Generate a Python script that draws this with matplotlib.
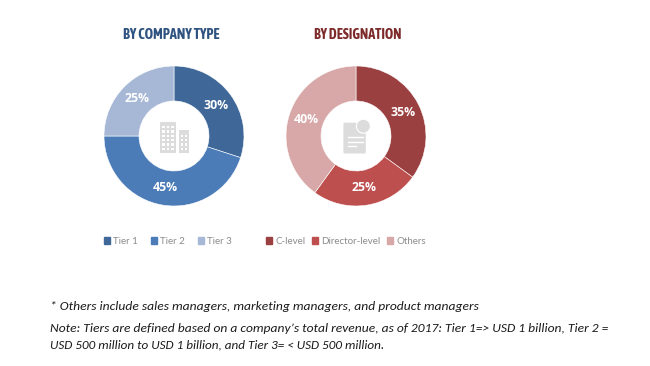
#two donut charts, company type and designation
import matplotlib
matplotlib.use('Agg')
import matplotlib.pyplot as plt
from matplotlib.patches import Rectangle, Circle, FancyBboxPatch

company_labels = ['Tier 1', 'Tier 2', 'Tier 3']
company_values = [30, 45, 25]
company_colors = ['#3f6899', '#4b7cb8', '#a7b8d6']

desig_labels = ['C-level', 'Director-level', 'Others']
desig_values = [35, 25, 40]
desig_colors = ['#9b4040', '#bd4f4e', '#d8a8a8']

note1 = '* Others include sales managers, marketing managers, and product managers'
note2 = 'Note: Tiers are defined based on a company\u2019s total revenue, as of 2017: Tier 1=> USD 1 billion, Tier 2 ='
note3 = 'USD 500 million to USD 1 billion, and Tier 3= < USD 500 million.'

W, H = 650, 366
plt.rcParams['font.family'] = ['Lato', 'DejaVu Sans']
fig = plt.figure(figsize=(W / 100, H / 100), dpi=100, facecolor='white')


def donut(cx, cy, values, colors):
    # 外半径70px
    r = 70
    ax = fig.add_axes([(cx - r) / W, 1 - (cy + r) / H, 2 * r / W, 2 * r / H])
    ax.pie(values, colors=colors, radius=1, startangle=90, counterclock=False,
           wedgeprops=dict(width=0.5, edgecolor='white', linewidth=0.4),
           autopct='%d%%', pctdistance=0.75,
           textprops=dict(color='white', fontsize=8.8, fontweight='bold', family=['Open Sans', 'DejaVu Sans']))
    ax.set_xlim(-1, 1)
    ax.set_ylim(-1, 1)
    return ax


ax1 = donut(174, 136, company_values, company_colors)
ax2 = donut(356, 136, desig_values, desig_colors)

# 中心图标
grey = '#dcdcdc'
ax1.add_patch(Rectangle((-0.2, -0.24), 0.23, 0.44, color=grey, lw=0))
ax1.add_patch(Rectangle((0.07, -0.24), 0.14, 0.33, color=grey, lw=0))
for i in range(6):
    for j in range(3):
        ax1.add_patch(Rectangle((-0.165 + j * 0.062, -0.2 + i * 0.062), 0.034, 0.034, color='white', lw=0))
for i in range(4):
    for j in range(2):
        ax1.add_patch(Rectangle((0.095 + j * 0.055, -0.2 + i * 0.062), 0.03, 0.034, color='white', lw=0))

ax2.add_patch(FancyBboxPatch((-0.16, -0.23), 0.28, 0.4, boxstyle='round,pad=0.02', color=grey, lw=0))
ax2.add_patch(Circle((0.105, 0.14), 0.1, facecolor=grey, edgecolor='white', lw=0.8))
for y0, x1 in [(-0.02, 0.1), (-0.08, 0.1), (-0.14, 0.0)]:
    ax2.plot([-0.11, x1], [y0, y0], color='white', lw=1)


def legend(labels, colors, cx, spacing):
    handles = [Rectangle((0, 0), 1, 1, color=c) for c in colors]
    fig.legend(handles, labels, loc='center', bbox_to_anchor=(cx / W, 1 - 241 / H), ncol=3, frameon=False,
               fontsize=7, labelcolor='#8c8c8c', handlelength=0.6, handleheight=0.7, handletextpad=0.35,
               columnspacing=spacing, borderpad=0, borderaxespad=0)


legend(company_labels, company_colors, 168, 1.3)
legend(desig_labels, desig_colors, 346, 0.65)

title_font = ['Asap Condensed', 'Liberation Sans']
fig.text(171 / W, 1 - 35 / H, 'BY COMPANY TYPE', ha='center', va='center', color='#2f5380', fontsize=10.4,
         fontweight='bold', family=title_font)
fig.text(358 / W, 1 - 35 / H, 'BY DESIGNATION', ha='center', va='center', color='#7d2a2a', fontsize=10.2,
         fontweight='bold', family=title_font)

note_font = ['Carlito', 'Lato', 'DejaVu Sans']
fig.text(50 / W, 1 - 306 / H, note1, ha='left', va='center', style='italic', fontsize=9.7, color='#1a1a1a', family=note_font)
fig.text(50 / W, 1 - 329 / H, note2, ha='left', va='center', style='italic', fontsize=9.7, color='#1a1a1a', family=note_font)
fig.text(50 / W, 1 - 345 / H, note3, ha='left', va='center', style='italic', fontsize=9.45, color='#1a1a1a', family=note_font)

fig.savefig('out.png', dpi=100)
